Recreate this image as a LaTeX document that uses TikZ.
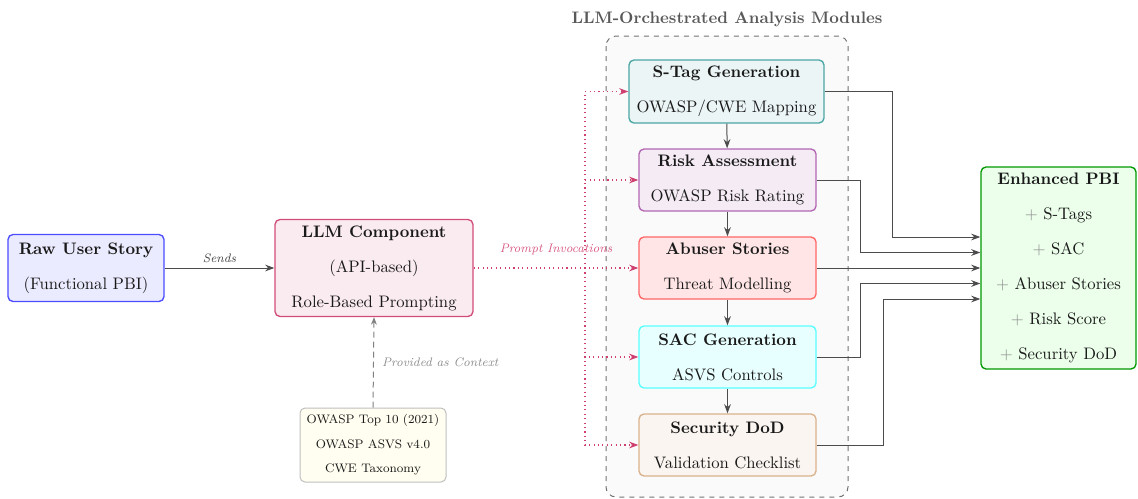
\documentclass[tikz,border=0pt]{standalone}
\usetikzlibrary{arrows.meta,calc}
\definecolor{aqua}{rgb}{0,1,1}
\newcommand{\addmark}{\textcolor{black!45}{$+$}\ }
\begin{document}
\begin{tikzpicture}[x=0.6pt,y=-0.6pt,
  box/.style={draw, line width=0.8pt, rounded corners=3pt, align=center,
    inner xsep=4pt, inner ysep=2pt, text=black!90},
  module/.style={box, minimum width=106.2pt, minimum height=37.2pt},
  flow/.style={draw=black!70, line width=0.6pt, -{Stealth[length=5.5pt,width=4pt]}},
  invoke/.style={draw=purple!75, line width=0.65pt, dotted, -{Stealth[length=5.5pt,width=4pt]}},
  ctx/.style={draw=black!50, line width=0.6pt, dash pattern=on 3.5pt off 2.5pt,
    -{Stealth[length=4.5pt,width=3.5pt]}},
  lbl/.style={font=\footnotesize\itshape, scale=0.925}]
\useasboundingbox (0,0) rectangle (1138,498);

% group frame for the analysis modules
\draw[dashed, draw=black!55, fill=black!2, line width=0.6pt, rounded corners=6pt]
  (606,36) rectangle (848,497);
\node[font=\bfseries, text=black!65] (grouptitle) at (727,19) {LLM-Orchestrated Analysis Modules};

% input side
\node[box, draw=blue!70, fill=blue!8, minimum width=93.6pt, minimum height=40.2pt]
  (raw) at (86,268) {\textbf{Raw User Story}\\[9pt](Functional PBI)};
\node[box, draw=purple!70, fill=purple!8, minimum width=118.8pt, minimum height=58.2pt]
  (llm) at (374,268) {\textbf{LLM Component}\\[9pt](API-based)\\[9pt]Role-Based Prompting};
\node[box, draw=black!25, fill=yellow!6, line width=0.6pt, font=\footnotesize, scale=0.925,
  minimum width=94.7pt, minimum height=48pt]
  (know) at (373,445) {OWASP Top 10 (2021)\\[6.4pt]OWASP ASVS v4.0\\[6.4pt]CWE Taxonomy};

% analysis modules
\node[module, draw=teal!70, fill=teal!8, minimum width=117pt, minimum height=37.8pt]
  (stag) at (726.5,91.5) {\textbf{S-Tag Generation}\\[9pt]OWASP/CWE Mapping};
\node[module, draw=violet!60, fill=violet!8]
  (risk) at (727.5,180) {\textbf{Risk Assessment}\\[9pt]OWASP Risk Rating};
\node[module, draw=red!60, fill=red!10]
  (abuse) at (727.5,268) {\textbf{Abuser Stories}\\[9pt]Threat Modelling};
\node[module, draw=aqua!65, fill=aqua!9]
  (sac) at (727.5,357) {\textbf{SAC Generation}\\[9pt]ASVS Controls};
\node[module, draw=brown!60, fill=brown!8]
  (dod) at (727.5,445) {\textbf{Security DoD}\\[9pt]Validation Checklist};

% output
\node[box, draw=green!60!black, fill=green!8, minimum width=93pt, minimum height=121.2pt]
  (enh) at (1058.5,268) {\textbf{Enhanced PBI}\\[9pt]\addmark S-Tags\\[9pt]\addmark SAC\\[9pt]%
  \addmark Abuser Stories\\[9pt]\addmark Risk Score\\[9pt]\addmark Security DoD};

% connectors
\draw[flow] (raw) -- node[lbl, above, text=black!75] {Sends} (llm);
\draw[ctx] (know.north) -- node[lbl, right=2pt, text=black!45] {Provided as Context} (llm.south);

\coordinate (fork) at (585,268);
\draw[invoke] (llm.east) -- node[lbl, above=5pt, text=purple!65] {Prompt Invocations} (abuse.west);
\draw[invoke] (fork) |- (stag.west);
\draw[invoke] (fork) |- (risk.west);
\draw[invoke] (fork) |- (sac.west);
\draw[invoke] (fork) |- (dod.west);

\draw[flow] (stag) -- (risk);
\draw[flow] (risk) -- (abuse);
\draw[flow] (abuse) -- (sac);
\draw[flow] (sac) -- (dod);

\draw[flow] (stag.east) -- ++(68,0) |- ($(enh.west)+(0,-31)$);
\draw[flow] (risk.east) -- ++(44,0) |- ($(enh.west)+(0,-15.5)$);
\draw[flow] (abuse.east) -- (enh.west);
\draw[flow] (sac.east) -- ++(44,0) |- ($(enh.west)+(0,15.5)$);
\draw[flow] (dod.east) -- ++(67,0) |- ($(enh.west)+(0,31)$);
\end{tikzpicture}
\end{document}
